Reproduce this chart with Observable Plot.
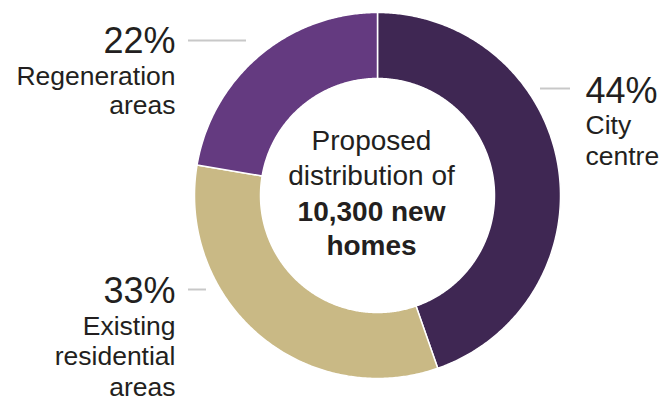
<!DOCTYPE html>
<html>
<head>
<meta charset="utf-8">
<script src="https://cdn.jsdelivr.net/npm/d3@7"></script>
<script src="https://cdn.jsdelivr.net/npm/@observablehq/plot@0.6"></script>
<style>
  html, body { margin: 0; padding: 0; background: #fff; }
  #chart svg { display: block; }
</style>
</head>
<body>
<div id="chart"></div>
<script>
// ---- data ----
const categories = ["City centre", "Existing residential areas", "Regeneration areas"];
const homes = [4600, 3400, 2300];
const percentLabels = ["44%", "33%", "22%"];
const nameLines = [["City", "centre"], ["Existing", "residential", "areas"], ["Regeneration", "areas"]];
const centreLines = ["Proposed", "distribution of", "10,300 new", "homes"];
const centreBold = [false, false, true, true];
const colors = ["#3f2753", "#c9b985", "#643a80"];

// ---- layout (pixel offsets from the donut centre) ----
const W = 665, H = 401, CX = 377, CY = 195;
const R_OUT = 183, R_IN = 117;
const labelLayout = [
  {x: 208, anchor: "start", pct: -93, names: [-62, -31], lead: [163, 193, -107]},
  {x: -202, anchor: "end", pct: 107, names: [139, 169.5, 200], lead: [-189, -171, 94]},
  {x: -202, anchor: "end", pct: -143, names: [-111, -81.5], lead: [-189, -131, -155]}
];
const centreLayout = {x: -6, ys: [-46, -11, 25, 59]};

// ---- build slices ----
const pie = d3.pie().sort(null).value(d => d.homes);
const rows = categories.map((c, i) => ({cat: c, homes: homes[i]}));
const arcs = pie(rows);
const pts = [];
arcs.forEach(a => {
  const n = Math.max(2, Math.ceil((a.endAngle - a.startAngle) / (Math.PI / 360)));
  for (let k = 0; k <= n; k++) {
    const t = a.startAngle + (a.endAngle - a.startAngle) * k / n;
    pts.push({cat: a.data.cat, x: R_OUT * Math.sin(t), y: -R_OUT * Math.cos(t)});
  }
  for (let k = n; k >= 0; k--) {
    const t = a.startAngle + (a.endAngle - a.startAngle) * k / n;
    pts.push({cat: a.data.cat, x: R_IN * Math.sin(t), y: -R_IN * Math.cos(t)});
  }
});

const pctText = categories.map((c, i) => ({t: percentLabels[i], x: labelLayout[i].x, y: labelLayout[i].pct, anchor: labelLayout[i].anchor}));
const nameText = [];
categories.forEach((c, i) => nameLines[i].forEach((s, j) => nameText.push({t: s, x: labelLayout[i].x, y: labelLayout[i].names[j], anchor: labelLayout[i].anchor})));
const leaders = categories.map((c, i) => ({x1: labelLayout[i].lead[0], x2: labelLayout[i].lead[1], y: labelLayout[i].lead[2]}));
const centreText = centreLines.map((s, i) => ({t: s, bold: centreBold[i], x: centreLayout.x, y: centreLayout.ys[i]}));

const font = "'Liberation Sans', Arial, Helvetica, sans-serif";
const textColor = "#231f20";

const chart = Plot.plot({
  width: W, height: H,
  margin: 0,
  style: {fontFamily: font, background: "#fff"},
  x: {domain: [-CX, W - CX], range: [0, W], axis: null},
  y: {domain: [-CY, H - CY], range: [0, H], axis: null},
  color: {domain: categories, range: colors},
  marks: [
    Plot.line(pts, {x: "x", y: "y", z: "cat", fill: "cat", stroke: "#fff", strokeWidth: 1.5, curve: "linear-closed"}),
    Plot.ruleY(leaders, {x1: "x1", x2: "x2", y: "y", stroke: "#c8c8c8", strokeWidth: 2}),
    ...["start", "end"].map(a => Plot.text(pctText.filter(d => d.anchor === a), {x: "x", y: "y", text: "t", textAnchor: a, lineAnchor: "bottom", fontSize: 36, fill: textColor, fontWeight: 300})),
    ...["start", "end"].map(a => Plot.text(nameText.filter(d => d.anchor === a), {x: "x", y: "y", text: "t", textAnchor: a, lineAnchor: "bottom", fontSize: 26.5, fill: textColor, fontWeight: 300})),
    Plot.text(centreText.filter(d => !d.bold), {x: "x", y: "y", text: "t", textAnchor: "middle", lineAnchor: "bottom", fontSize: 28, fill: textColor, fontWeight: 300}),
    Plot.text(centreText.filter(d => d.bold), {x: "x", y: "y", text: "t", textAnchor: "middle", lineAnchor: "bottom", fontSize: 28, fill: textColor, fontWeight: "bold"})
  ]
});
document.getElementById("chart").appendChild(chart);
</script>
</body>
</html>
